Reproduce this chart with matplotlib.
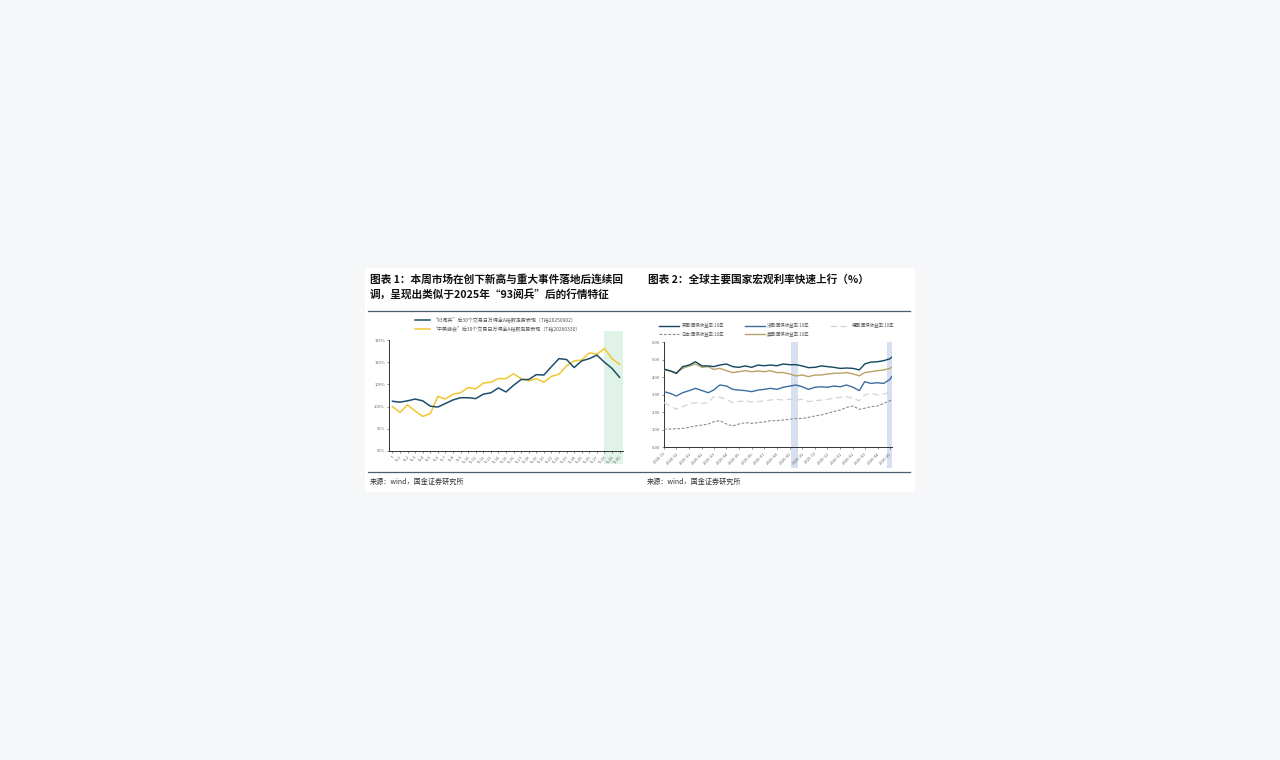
import numpy as np
import pandas as pd
import matplotlib
matplotlib.use("Agg")
import matplotlib.pyplot as plt
from matplotlib.patches import Rectangle
from matplotlib.lines import Line2D

plt.rcParams['font.family'] = ['Noto Sans CJK SC', 'DejaVu Sans']
plt.rcParams['axes.unicode_minus'] = False

# ---------------- data: chart 1 (index level, T = 100%) ----------------
days = ['T'] + ['T+%d' % i for i in range(1, 31)]
parade_93 = [101.2, 101.0, 101.3, 101.7, 101.3, 100.1, 99.9, 100.7, 101.5, 102.0,
             102.0, 101.8, 102.8, 103.1, 104.2, 103.3, 104.8, 106.1, 106.1, 107.2,
             107.1, 109.0, 110.8, 110.6, 108.8, 110.3, 110.8, 111.6, 110.0, 108.6,
             106.6]
recent_event = [100.0, 98.7, 100.4, 99.0, 97.8, 98.4, 102.3, 101.7, 102.8, 103.1,
                104.3, 104.0, 105.3, 105.5, 106.3, 106.3, 107.4, 106.3, 105.8, 106.3,
                105.5, 106.8, 107.3, 109.2, 110.3, 110.5, 112.1, 111.8, 113.1, 110.8,
                109.5]
label_93 = '“93阅兵”后30个交易日万得全A指数走势表现（T指20250902）'
label_recent = '“中美峰会”后30个交易日万得全A指数走势表现（T指20260330）'

# ---------------- data: chart 2 (10y government bond yields, %) ----------------
dates = ['2024-11-01', '2024-11-16', '2024-12-01', '2024-12-16', '2025-01-01', '2025-01-16',
         '2025-02-01', '2025-02-16', '2025-03-01', '2025-03-16', '2025-04-01', '2025-04-16',
         '2025-05-01', '2025-05-16', '2025-06-01', '2025-06-16', '2025-07-01', '2025-07-16',
         '2025-08-01', '2025-08-16', '2025-09-01', '2025-09-16', '2025-10-01', '2025-10-16',
         '2025-11-01', '2025-11-16', '2025-12-01', '2025-12-16', '2026-01-01', '2026-01-16',
         '2026-02-01', '2026-02-16', '2026-03-01', '2026-03-16', '2026-04-01', '2026-04-16',
         '2026-05-01', '2026-05-05']
uk_10y = [4.47, 4.37, 4.22, 4.61, 4.70, 4.89, 4.65, 4.65, 4.61, 4.70, 4.76, 4.61,
          4.57, 4.65, 4.57, 4.70, 4.66, 4.70, 4.66, 4.76, 4.72, 4.72, 4.65, 4.55,
          4.57, 4.65, 4.61, 4.57, 4.51, 4.53, 4.51, 4.42, 4.76, 4.87, 4.89, 4.95,
          5.06, 5.14]
fr_10y = [3.18, 3.08, 2.93, 3.12, 3.24, 3.37, 3.24, 3.12, 3.27, 3.56, 3.50, 3.31,
          3.27, 3.24, 3.18, 3.27, 3.31, 3.37, 3.31, 3.43, 3.50, 3.56, 3.46, 3.31,
          3.43, 3.46, 3.43, 3.50, 3.46, 3.56, 3.43, 3.24, 3.75, 3.65, 3.69, 3.65,
          3.88, 4.04]
de_10y = [2.55, 2.36, 2.17, 2.32, 2.47, 2.55, 2.51, 2.55, 2.89, 2.86, 2.74, 2.55,
          2.61, 2.66, 2.59, 2.61, 2.66, 2.70, 2.74, 2.70, 2.74, 2.70, 2.74, 2.61,
          2.66, 2.70, 2.74, 2.80, 2.86, 2.89, 2.80, 2.66, 2.99, 3.08, 2.99, 3.05,
          3.12, 3.18]
jp_10y = [1.03, 1.05, 1.06, 1.08, 1.14, 1.22, 1.27, 1.33, 1.46, 1.52, 1.33, 1.22,
          1.33, 1.41, 1.37, 1.41, 1.45, 1.52, 1.52, 1.56, 1.60, 1.65, 1.65, 1.71,
          1.79, 1.85, 1.94, 2.04, 2.13, 2.28, 2.36, 2.17, 2.23, 2.32, 2.36, 2.51,
          2.66, 2.70]
us_10y = [4.42, 4.36, 4.27, 4.51, 4.65, 4.76, 4.57, 4.61, 4.45, 4.51, 4.38, 4.27,
          4.32, 4.38, 4.32, 4.36, 4.32, 4.38, 4.27, 4.27, 4.19, 4.08, 4.13, 4.04,
          4.13, 4.13, 4.19, 4.23, 4.23, 4.27, 4.19, 4.08, 4.27, 4.32, 4.38, 4.42,
          4.51, 4.57]
band_1 = ('2025-09-04', '2025-09-22')
band_2 = ('2026-04-24', '2026-05-06')

# ---------------- figure ----------------
W, H = 1280, 760
fig = plt.figure(figsize=(12.8, 7.6), dpi=100, facecolor='#f5f7f9')

def fx(px):
    return px / W

def fy(py):
    return 1 - py / H

# white page, kept behind the axes
fig.patches.append(Rectangle((fx(365), fy(492)), fx(550), 224 / H, transform=fig.transFigure,
                             facecolor='white', edgecolor='none', zorder=-5))
# rules
for yy in (311, 472):
    fig.add_artist(Line2D([fx(368), fx(910)], [fy(yy), fy(yy)], color='#4d5d6b', lw=0.9))

title_kw = dict(fontsize=7.7, fontweight='bold', color='#111111', va='center', style='italic')
fig.text(fx(370), fy(279), '图表 1：本周市场在创下新高与重大事件落地后连续回', **title_kw)
fig.text(fx(370), fy(294), '调，呈现出类似于2025年“93阅兵”后的行情特征', **title_kw)
fig.text(fx(648), fy(279), '图表 2：全球主要国家宏观利率快速上行（%）', **title_kw)

src_kw = dict(fontsize=5.1, color='#333333', va='center')
fig.text(fx(370), fy(482), '来源：wind，国金证券研究所', **src_kw)
fig.text(fx(647), fy(482), '来源：wind，国金证券研究所', **src_kw)

tick_font = 3.0
axis_color = '#333333'

# ---------------- chart 1 ----------------
ax1 = fig.add_axes([fx(389), fy(451), fx(623 - 389), (451 - 340) / H])
x = np.arange(len(days))
ax1.axvspan(28, 30.45, ymin=-0.12, ymax=1.08, facecolor='#dff3e6', edgecolor='none',
            clip_on=False, zorder=0)
l1, = ax1.plot(x, parade_93, color='#1d4e6b', lw=1.1, zorder=3)
l2, = ax1.plot(x, recent_event, color='#f0c730', lw=1.1, zorder=2)
ax1.set_xlim(-0.45, 30.45)
ax1.set_ylim(90, 115)
ax1.set_yticks([90, 95, 100, 105, 110, 115])
ax1.set_yticklabels(['%d%%' % v for v in [90, 95, 100, 105, 110, 115]])
ax1.set_xticks(x)
ax1.set_xticklabels(days, rotation=45, ha='right', rotation_mode='anchor')
ax1.tick_params(labelsize=tick_font, colors='#666666', length=1.5, width=0.5, pad=1.5)
for s in ('top', 'right'):
    ax1.spines[s].set_visible(False)
for s in ('left', 'bottom'):
    ax1.spines[s].set_color(axis_color)
    ax1.spines[s].set_linewidth(0.7)
ax1.patch.set_alpha(0)
ax1.legend([l1, l2], [label_93, label_recent], loc='lower left',
           bbox_to_anchor=(fx(415 - 389) / fx(234), 1.07), frameon=False, fontsize=3.6,
           handlelength=3.0, handletextpad=0.6, labelspacing=0.75, borderpad=0,
           borderaxespad=0, labelcolor='#555555')

# ---------------- chart 2 ----------------
ax2 = fig.add_axes([fx(664), fy(447.3), fx(892 - 664), 105 / H])
d = pd.to_datetime(dates)
for b in (band_1, band_2):
    ax2.axvspan(pd.Timestamp(b[0]), pd.Timestamp(b[1]), ymin=-0.2, ymax=1.0,
                facecolor='#d7e0f0', edgecolor='none', clip_on=False, zorder=0)
h_uk, = ax2.plot(d, uk_10y, color='#12455f', lw=1.0, zorder=5)
h_fr, = ax2.plot(d, fr_10y, color='#3b6da3', lw=1.0, zorder=4)
h_de, = ax2.plot(d, de_10y, color='#cfd4db', lw=0.9, ls=(0, (5, 3)), zorder=3)
h_jp, = ax2.plot(d, jp_10y, color='#8c8c8c', lw=0.8, ls=(0, (2.5, 1.5)), zorder=3)
h_us, = ax2.plot(d, us_10y, color='#b9a266', lw=1.0, zorder=4)
ax2.set_xlim(pd.Timestamp('2024-11-01'), pd.Timestamp('2026-05-06'))
ax2.set_ylim(0, 6)
ax2.set_yticks(np.arange(0, 7, 1))
ax2.set_yticklabels(['%.2f' % v for v in np.arange(0, 7, 1)])
months = pd.date_range('2024-11-01', '2026-05-01', freq='MS')
ax2.set_xticks(months)
ax2.set_xticklabels([m.strftime('%Y-%m') for m in months], rotation=45, ha='right',
                    rotation_mode='anchor')
ax2.tick_params(labelsize=tick_font, colors='#666666', length=1.5, width=0.5, pad=1.5)
for s in ('top', 'right'):
    ax2.spines[s].set_visible(False)
for s in ('left', 'bottom'):
    ax2.spines[s].set_color(axis_color)
    ax2.spines[s].set_linewidth(0.7)
ax2.patch.set_alpha(0)
# legend fills column-first, so order entries to read row by row
ax2.legend([h_uk, h_jp, h_fr, h_us, h_de],
           ['英国:国债收益率:10年', '日本:国债收益率:10年', '法国:国债收益率:10年',
            '美国:国债收益率:10年', '德国:国债收益率:10年'],
           loc='lower left', bbox_to_anchor=(-0.02, 1.05), ncol=3, frameon=False,
           fontsize=3.2, handlelength=4.5, handletextpad=0.5, columnspacing=4.6,
           labelspacing=0.8, borderpad=0, borderaxespad=0, labelcolor='#555555')

fig.savefig('out.png', dpi=100, facecolor=fig.get_facecolor())
